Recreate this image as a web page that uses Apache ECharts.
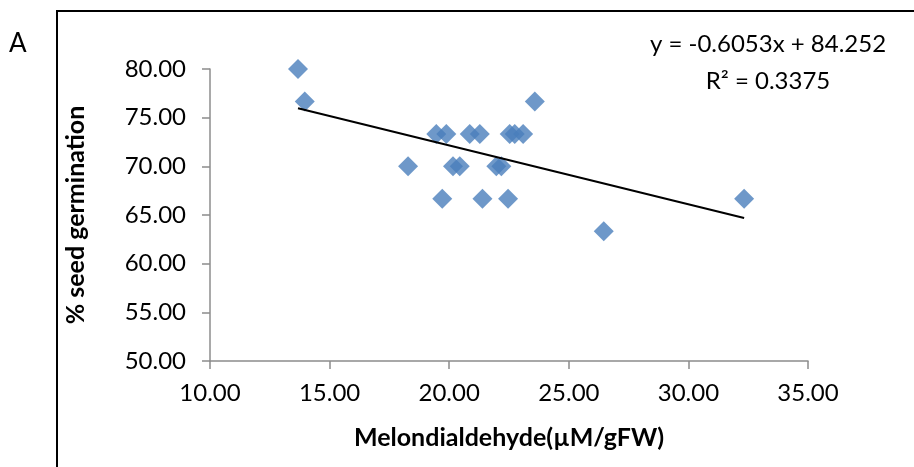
<!DOCTYPE html>
<html>
<head>
<meta charset="utf-8">
<script src="https://cdn.jsdelivr.net/npm/echarts@6/dist/echarts.min.js"></script>
<style>
  html, body { margin: 0; padding: 0; background: #fff; }
  #chart { width: 914px; height: 467px; }
</style>
</head>
<body>
<div id="chart"></div>
<script>
// MDA content vs % seed germination, one diamond per sample
const mda = [13.68, 13.96, 19.46, 19.88, 20.86, 21.28, 22.53, 22.74, 23.09, 23.58,
             18.28, 20.16, 20.44, 21.97, 22.18, 19.71, 21.39, 22.46, 26.46, 32.33]
const germination = [80.00, 76.67, 73.33, 73.33, 73.33, 73.33, 73.33, 73.33, 73.33, 76.67,
                     70.00, 70.00, 70.00, 70.00, 70.00, 66.67, 66.67, 66.67, 63.33, 66.67]

// linear trend as reported on the chart
const slope = -0.6053
const intercept = 84.252
const rSquared = 0.3375

const font = "Lato"
const chart = echarts.init(document.getElementById("chart"))

const xMin = Math.min(...mda)
const xMax = Math.max(...mda)
const trend = [xMin, xMax].map((x) => [x, slope * x + intercept])

chart.setOption({
  animation: false,
  backgroundColor: "#fff",
  textStyle: { fontFamily: font },
  grid: { left: 210, right: 106, top: 69, bottom: 106 },
  xAxis: {
    type: "value",
    min: 10,
    max: 35,
    interval: 5,
    name: "Melondialdehyde(µM/gFW)",
    nameLocation: "middle",
    nameGap: 64,
    nameTextStyle: { fontFamily: font, fontWeight: "bold", fontSize: 25, color: "#000", verticalAlign: "top" },
    axisLine: { lineStyle: { color: "#8c8c8c", width: 1.5 } },
    axisTick: { length: 8, lineStyle: { color: "#8c8c8c", width: 1.5 } },
    axisLabel: { color: "#000", fontSize: 24, margin: 20, formatter: (v) => v.toFixed(2) },
    splitLine: { show: false },
  },
  yAxis: {
    type: "value",
    min: 50,
    max: 80,
    interval: 5,
    name: "% seed germination",
    nameLocation: "middle",
    nameRotate: 90,
    nameGap: 122,
    nameTextStyle: { fontFamily: font, fontWeight: "bold", fontSize: 25, color: "#000" },
    axisLine: { show: true, lineStyle: { color: "#8c8c8c", width: 1.5 } },
    axisTick: { show: true, length: 8, lineStyle: { color: "#8c8c8c", width: 1.5 } },
    axisLabel: { color: "#000", fontSize: 24, margin: 24, formatter: (v) => v.toFixed(2) },
    splitLine: { show: false },
  },
  series: [
    {
      type: "line",
      data: trend,
      symbol: "none",
      lineStyle: { color: "#000", width: 2 },
      z: 3,
    },
    {
      type: "scatter",
      data: mda.map((x, i) => [x, germination[i]]),
      symbol: "diamond",
      symbolSize: 20,
      itemStyle: { color: "#4A7EBB" },
      z: 2,
    },
  ],
  graphic: [
    {
      type: "rect",
      shape: { x: 57, y: 11, width: 1000, height: 1000 },
      style: { fill: "none", stroke: "#000", lineWidth: 2 },
      silent: true,
    },
    {
      type: "text",
      left: 9,
      top: 31,
      style: { text: "A", font: `26px ${font}`, fill: "#000" },
    },
    {
      type: "text",
      x: 768,
      y: 63,
      style: {
        text: `y = ${slope}x + ${intercept}\nR² = ${rSquared}`,
        font: `24px ${font}`,
        fill: "#000",
        align: "center",
        verticalAlign: "middle",
        lineHeight: 37,
      },
    },
  ],
})
</script>
</body>
</html>
